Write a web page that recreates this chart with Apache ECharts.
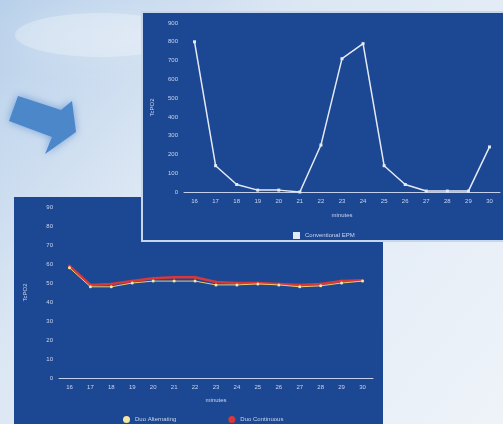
<!DOCTYPE html>
<html><head><meta charset="utf-8">
<script src="https://cdn.jsdelivr.net/npm/echarts@6/dist/echarts.min.js"></script>
<style>html,body{margin:0;padding:0;background:#e2ecf6;}#c{width:503px;height:424px;}</style>
</head><body><div id="c"></div>
<script>
const minutes = ['16','17','18','19','20','21','22','23','24','25','26','27','28','29','30'];
const conventionalEPM = [800, 140, 40, 10, 10, 0, 250, 710, 790, 140, 40, 5, 5, 5, 240];
const duoAlternating = [58, 48, 48, 50, 51, 51, 51, 49, 49, 49.5, 49, 48, 48.5, 50, 51];
const duoContinuous = [59, 49, 49.5, 51, 52.5, 53, 53, 50.5, 50, 50, 49.5, 49, 49.5, 51, 51.5];
const topTicks = [0, 900, 100];
const bottomTicks = [0, 90, 10];

const txt = '#c9d5ee';
const panel = '#1c4793';
const font = 'Liberation Sans';

function axisStyle(){
  return {
    axisLine:{lineStyle:{color:'#c4d0ea', width:1}},
    axisTick:{lineStyle:{color:'#c4d0ea'}, length:3},
    axisLabel:{color:txt, fontSize:6, fontFamily:font, margin:6},
    splitLine:{show:false},
    nameTextStyle:{color:txt, fontSize:6, fontFamily:font}
  };
}

const chart = echarts.init(document.getElementById('c'));
chart.setOption({
  animation:false,
  backgroundColor:'transparent',
  graphic:[
    {type:'rect', z:-20, shape:{x:0,y:0,width:503,height:424},
      style:{fill:new echarts.graphic.LinearGradient(0,0,1,1,[
        {offset:0,color:'#b8d0ea'},{offset:0.35,color:'#dce7f4'},{offset:1,color:'#eef3f9'}])}},
    {type:'ellipse', z:-19, shape:{cx:100,cy:35,rx:85,ry:22},
      style:{fill:'rgba(255,255,255,0.28)', shadowBlur:30, shadowColor:'rgba(255,255,255,0.6)'}},
    {type:'polygon', z:-18, shape:{points:[[18,96],[61,110],[72,101],[76,132],[45,154],[52,137],[9,121]]},
      style:{fill:'#4b87c9', shadowBlur:8, shadowColor:'rgba(60,120,200,0.6)'}},
    {type:'rect', z:-15, shape:{x:14,y:197,width:369,height:230},
      style:{fill:panel}},
    {type:'rect', z:-14, shape:{x:142,y:12,width:365,height:229},
      style:{fill:panel, stroke:'#c6d6ec', lineWidth:2}}
  ],
  grid:[
    {left:184, right:3, top:23, bottom:232},
    {left:59, right:130, top:207, bottom:46}
  ],
  legend:[
    {data:['Conventional EPM'], left:288, top:227, itemWidth:7, itemHeight:7, icon:'rect',
      textStyle:{color:txt, fontSize:6, fontFamily:font}},
    {data:['Duo Alternating','Duo Continuous'], left:118, top:411, itemWidth:7, itemHeight:7, icon:'circle', itemGap:52,
      textStyle:{color:txt, fontSize:6, fontFamily:font}}
  ],
  xAxis:[
    Object.assign(axisStyle(), {type:'category', gridIndex:0, data:minutes, boundaryGap:true,
      name:'minutes', nameLocation:'middle', nameGap:20}),
    Object.assign(axisStyle(), {type:'category', gridIndex:1, data:minutes, boundaryGap:true,
      name:'minutes', nameLocation:'middle', nameGap:19})
  ],
  yAxis:[
    Object.assign(axisStyle(), {type:'value', gridIndex:0, min:topTicks[0], max:topTicks[1], interval:topTicks[2],
      name:'TcPO2', nameLocation:'middle', nameGap:29}),
    Object.assign(axisStyle(), {type:'value', gridIndex:1, min:bottomTicks[0], max:bottomTicks[1], interval:bottomTicks[2],
      name:'TcPO2', nameLocation:'middle', nameGap:31})
  ],
  series:[
    {name:'Conventional EPM', type:'line', xAxisIndex:0, yAxisIndex:0, data:conventionalEPM,
      symbol:'rect', symbolSize:3, lineStyle:{color:'#e3eaf6', width:1.5}, itemStyle:{color:'#e3eaf6'}},
    {name:'Duo Continuous', type:'line', xAxisIndex:1, yAxisIndex:1, data:duoContinuous,
      symbol:'circle', symbolSize:3, lineStyle:{color:'#d8383a', width:2.5}, itemStyle:{color:'#d8383a'}},
    {name:'Duo Alternating', type:'line', xAxisIndex:1, yAxisIndex:1, data:duoAlternating,
      symbol:'circle', symbolSize:3, lineStyle:{color:'#f2c96a', width:1}, itemStyle:{color:'#f6e6a0'}}
  ]
});
</script></body></html>
